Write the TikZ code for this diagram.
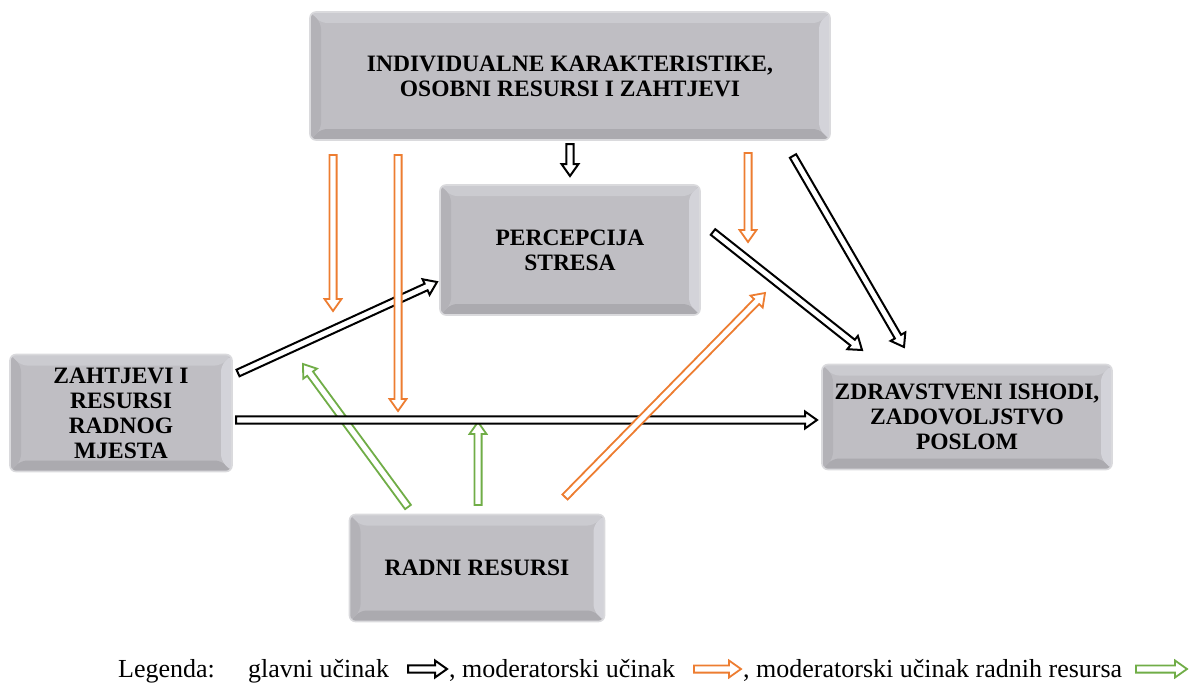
\documentclass[tikz,border=0pt]{standalone}
\usepackage{fontspec}
\setmainfont{Liberation Serif}
\usetikzlibrary{calc}
\definecolor{bmid}{HTML}{BFBEC3}
\definecolor{btop}{HTML}{CBCBD0}
\definecolor{bbot}{HTML}{ABAAAF}
\definecolor{bleft}{HTML}{B3B2B7}
\definecolor{bright}{HTML}{D3D3D9}
\definecolor{bhalo}{HTML}{DADADD}
\definecolor{morange}{HTML}{ED7D31}
\definecolor{mgreen}{HTML}{70AD47}
\tikzset{
  bevel/.style={rectangle, rounded corners=6pt, fill=bmid, draw=bhalo, line width=1.6pt,
    inner sep=0pt, align=center, font=\bfseries\fontsize{23.5}{25}\selectfont,
    path picture={
      \coordinate (pnw) at (path picture bounding box.north west);
      \coordinate (pne) at (path picture bounding box.north east);
      \coordinate (psw) at (path picture bounding box.south west);
      \coordinate (pse) at (path picture bounding box.south east);
      \fill[btop] (pnw) -- (pne) -- ([shift={(-11pt,-11pt)}]pne) -- ([shift={(11pt,-11pt)}]pnw) -- cycle;
      \fill[bbot] (psw) -- (pse) -- ([shift={(-11pt,11pt)}]pse) -- ([shift={(11pt,11pt)}]psw) -- cycle;
      \fill[bleft] (pnw) -- (psw) -- ([shift={(11pt,11pt)}]psw) -- ([shift={(11pt,-11pt)}]pnw) -- cycle;
      \fill[bright] (pne) -- (pse) -- ([shift={(-11pt,11pt)}]pse) -- ([shift={(-11pt,-11pt)}]pne) -- cycle;
    }},
  mainarrow/.style={draw=black, fill=white, line width=2pt, line join=miter},
  modarrow/.style={draw=morange, fill=white, line width=1.8pt, line join=miter},
  resarrow/.style={draw=mgreen, fill=white, line width=1.8pt, line join=miter},
  legtxt/.style={inner sep=0pt, font=\fontsize{26}{28}\selectfont}
}
\newcommand{\blockarrow}[3]{%
  \coordinate (bahead) at ($(#3)!12pt!(#2)$);
  \draw[#1] ($(#2)!3.6pt!90:(#3)$) -- ($(bahead)!3.6pt!90:(#3)$) -- ($(bahead)!8.5pt!90:(#3)$)
    -- (#3) -- ($(bahead)!8.5pt!-90:(#3)$) -- ($(bahead)!3.6pt!-90:(#3)$)
    -- ($(#2)!3.6pt!-90:(#3)$) -- cycle;
}
\begin{document}
\begin{tikzpicture}[x=1pt,y=-1pt]
\useasboundingbox (0,0) rectangle (1192,685);

% boxes
\node[bevel, minimum width=520pt, minimum height=128pt] (top) at (570,76)
  {INDIVIDUALNE KARAKTERISTIKE,\\OSOBNI RESURSI I ZAHTJEVI};
\node[bevel, minimum width=260pt, minimum height=130pt] (perc) at (570,250)
  {PERCEPCIJA\\STRESA};
\node[bevel, minimum width=222pt, minimum height=117pt] (zaht) at (121,413)
  {ZAHTJEVI I\\RESURSI\\RADNOG\\MJESTA};
\node[bevel, minimum width=290pt, minimum height=105pt] (zdr) at (967,417)
  {ZDRAVSTVENI ISHODI,\\ZADOVOLJSTVO\\POSLOM};
\node[bevel, minimum width=255pt, minimum height=107pt] (radni) at (477,568)
  {RADNI RESURSI};

% arrow end points
\coordinate (t2ps) at (570,144);  \coordinate (t2pe) at (570,176);
\coordinate (z2ps) at (238,373);  \coordinate (z2pe) at (437,282);
\coordinate (z2zs) at (236,420);  \coordinate (z2ze) at (817,420);
\coordinate (p2zs) at (713,232);  \coordinate (p2ze) at (862,350);
\coordinate (t2zs) at (793,156);  \coordinate (t2ze) at (904,347);
\coordinate (o1s) at (333,155);   \coordinate (o1e) at (333,311);
\coordinate (o2s) at (398,155);   \coordinate (o2e) at (398,411);
\coordinate (o3s) at (748,153);   \coordinate (o3e) at (748,242);
\coordinate (o4s) at (565,497);   \coordinate (o4e) at (765,293);
\coordinate (g1s) at (408,507);   \coordinate (g1e) at (303,364);
\coordinate (g2s) at (478,505);   \coordinate (g2e) at (478,422);

% moderator arrows
\blockarrow{modarrow}{o1s}{o1e}
\blockarrow{modarrow}{o3s}{o3e}
\blockarrow{resarrow}{g1s}{g1e}
\blockarrow{resarrow}{g2s}{g2e}
% main arrows
\blockarrow{mainarrow}{t2ps}{t2pe}
\blockarrow{mainarrow}{z2ps}{z2pe}
\blockarrow{mainarrow}{p2zs}{p2ze}
\blockarrow{mainarrow}{t2zs}{t2ze}
\blockarrow{modarrow}{o2s}{o2e}
\blockarrow{mainarrow}{z2zs}{z2ze}
\blockarrow{modarrow}{o4s}{o4e}

% legend
\node[legtxt, anchor=base west] (lg1) at (118,677) {Legenda:};
\node[legtxt, anchor=base west] (lg2) at (248,677) {glavni učinak};
\coordinate (la1s) at (408,669); \coordinate (la1e) at (447,669);
\blockarrow{mainarrow}{la1s}{la1e}
\node[legtxt, anchor=base west] (lg3) at (449,677) {, moderatorski učinak};
\coordinate (la2s) at (694,669); \coordinate (la2e) at (741,669);
\blockarrow{modarrow}{la2s}{la2e}
\node[legtxt, anchor=base west] (lg4) at (743,677) {, moderatorski učinak radnih resursa};
\coordinate (la3s) at (1136,669); \coordinate (la3e) at (1187,669);
\blockarrow{resarrow}{la3s}{la3e}
\end{tikzpicture}
\end{document}
